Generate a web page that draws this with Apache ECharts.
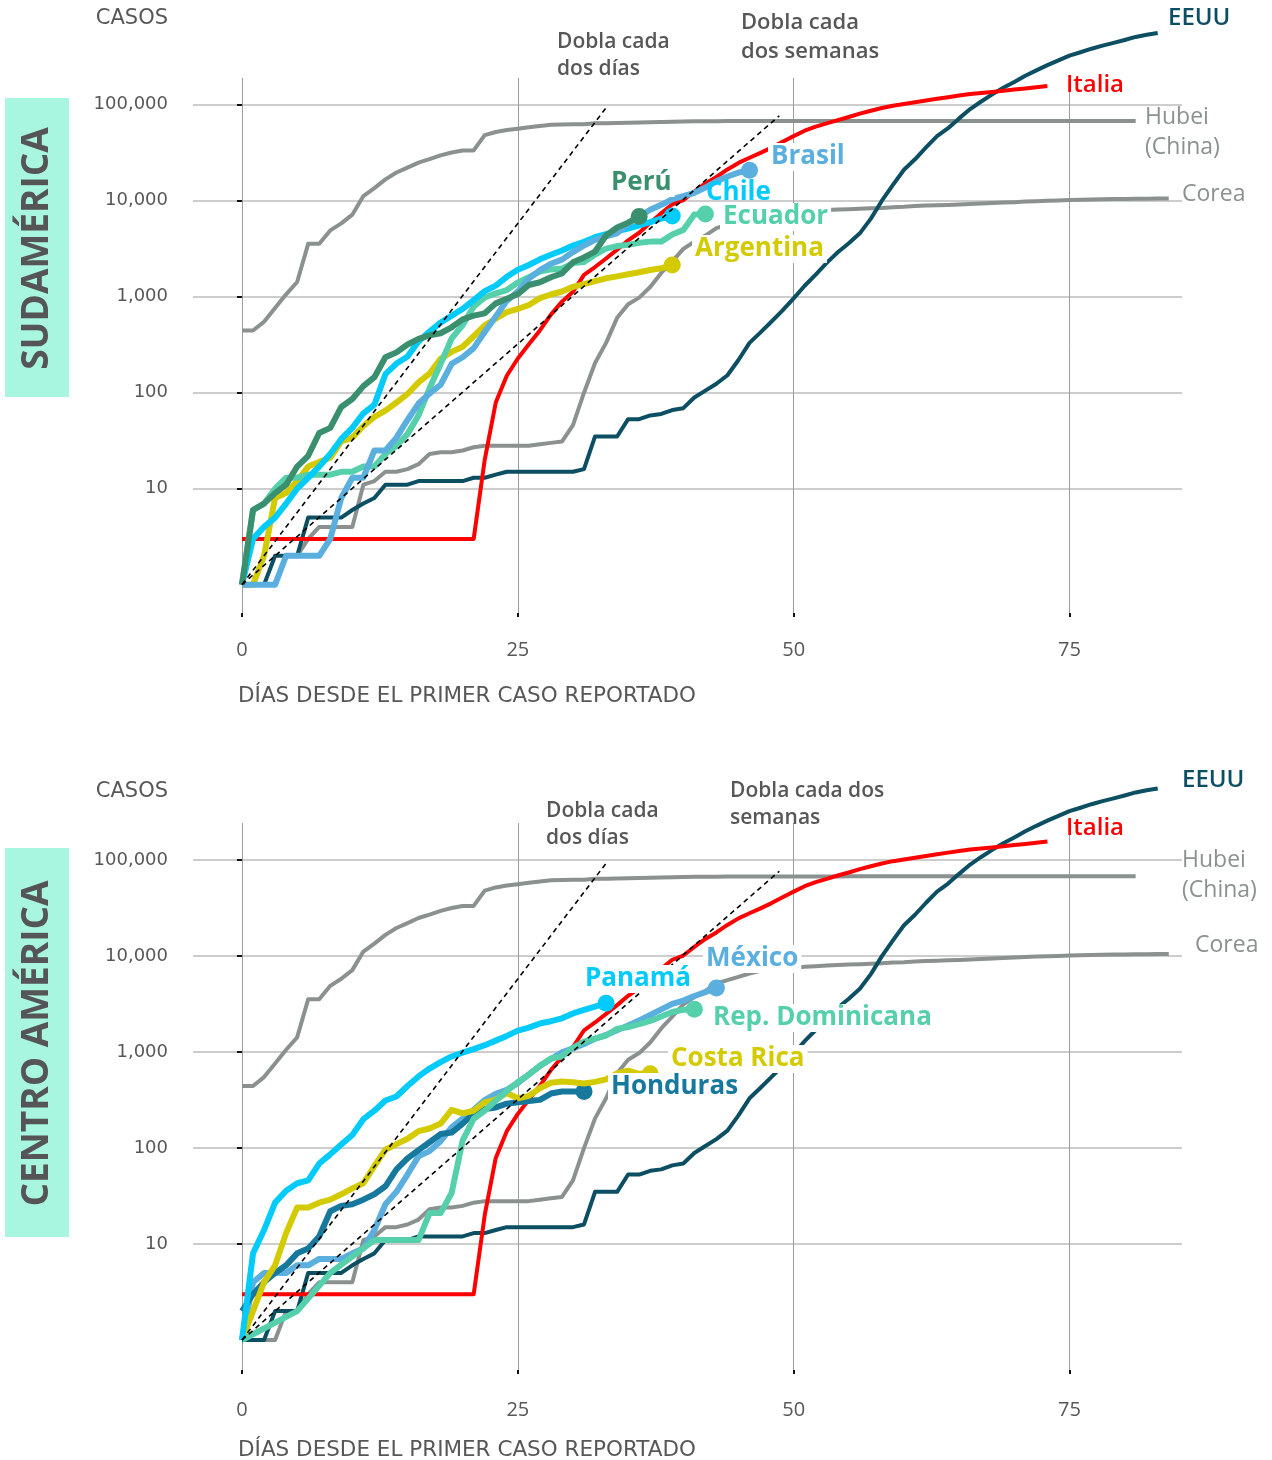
<!DOCTYPE html>
<html><head><meta charset="utf-8">
<script src="https://cdn.jsdelivr.net/npm/echarts@6/dist/echarts.min.js"></script>
<style>html,body{margin:0;padding:0;background:#fff}#c{width:1272px;height:1460px}</style>
</head><body><div id="c"></div>
<script>
// ---- tick labels ----
const xTicks = [0, 25, 50, 75];
const yTicks = [10, 100, 1000, 10000, 100000];

// ---- reference series (cases by day since first case; index = day) ----
const hubei = [444,444,549,761,1058,1423,3554,3554,4903,5806,7153,11177,13522,16678,19665,22112,24953,27100,29631,31728,33366,33366,48206,51986,54406,56249,58182,59989,61682,62031,62442,62662,64084,64084,64287,64786,65187,65596,65914,66337,66907,67103,67217,67332,67466,67592,67666,67707,67743,67760,67773,67781,67786,67790,67794,67798,67799,67800,67800,67800,67800,67800,67801,67801,67801,67801,67801,67801,67801,67801,67801,67802,67802,67802,67803,67803,67803,67803,67803,67803,67803,67803];
const corea = [1,1,1,1,2,2,3,4,4,4,4,11,12,15,15,16,18,23,24,24,25,27,28,28,28,28,28,29,30,31,46,100,204,330,602,833,977,1261,1766,2337,3150,3736,4335,5186,5621,6088,6593,7041,7314,7478,7513,7755,7869,7979,8086,8162,8236,8320,8413,8565,8652,8799,8897,8961,9037,9137,9241,9332,9478,9583,9661,9786,9887,9976,10062,10156,10237,10284,10331,10384,10423,10450,10480,10512,10537];
const italia = [3,3,3,3,3,3,3,3,3,3,3,3,3,3,3,3,3,3,3,3,3,3,20,79,150,227,320,445,650,888,1128,1689,2036,2502,3089,3858,4636,5883,7375,9172,10149,12462,15113,17660,21157,24747,27980,31506,35713,41035,47021,53578,59138,63927,69176,74386,80589,86498,92472,97689,101739,105792,110574,115242,119827,124632,128948,132547,135586,139422,143626,147577,152271,156363];
const eeuu = [1,1,1,2,2,2,5,5,5,5,6,7,8,11,11,11,12,12,12,12,12,13,13,14,15,15,15,15,15,15,15,16,35,35,35,53,53,58,60,66,69,89,105,124,152,219,330,425,552,720,960,1300,1700,2250,2900,3600,4570,6500,10000,14600,21000,27000,36000,47000,57000,72000,90000,108000,128000,150000,172000,200000,228000,258000,290000,325000,352000,383000,412000,440000,472000,508000,535000,557000];

// ---- Sudamérica ----
const brasil = [1,1,1,1,2,2,2,2,3,8,13,13,25,25,34,52,77,98,121,200,234,291,428,621,904,1128,1546,1891,2201,2433,2915,3417,3904,4256,4579,5717,6836,8044,9056,10360,11130,12056,13717,15927,17857,19638,20727];
const chile = [1,3,4,5,7,10,13,17,23,33,43,61,75,156,201,238,342,434,537,632,746,922,1142,1306,1610,1909,2139,2449,2738,3031,3404,3737,4161,4471,4815,5116,5546,5972,6501,6927];
const peru = [1,6,7,9,11,17,22,38,43,71,86,117,145,234,263,318,363,395,416,480,580,635,671,852,950,1065,1323,1414,1595,1746,2281,2561,2954,4342,5256,5897,6848];
const ecuador = [1,6,7,10,13,13,14,14,14,15,15,17,17,23,28,37,58,111,199,367,506,789,981,1082,1173,1403,1595,1823,1924,1962,2240,2302,2748,3163,3368,3465,3646,3747,3747,4450,4965,7161,7257];
const argentina = [1,1,2,8,9,12,17,19,21,31,34,45,56,65,79,97,128,158,225,266,301,387,502,589,690,745,820,966,1054,1133,1265,1353,1451,1554,1628,1715,1795,1894,1975,2142];

// ---- Centro América ----
const panama = [1,8,14,27,36,43,46,69,86,109,137,200,245,313,345,443,558,674,786,901,989,1075,1181,1317,1475,1673,1801,1988,2100,2249,2528,2752,2974,3234];
const mexico = [1,4,5,5,5,6,6,7,7,7,8,9,14,26,35,53,82,93,118,164,203,251,316,367,405,475,585,717,848,993,1094,1215,1378,1510,1688,1890,2143,2439,2785,3181,3441,3844,4219,4661];
const honduras = [2,3,4,5,6,8,9,12,22,25,26,29,33,40,60,78,95,115,140,145,180,230,255,265,290,300,310,318,370,389,389,389];
const costaRica = [1,2,4,6,13,24,24,27,29,33,38,43,65,96,110,125,150,160,180,250,230,245,300,320,375,330,350,420,480,495,485,470,490,520,600,640,594,594];
const repDomDays = [0,5,8,12,16,17,18,19,20,21,22,23,24,25,26,27,28,29,30,31,32,33,34,35,36,37,38,39,40,41];
const repDomCases = [1,2,5,11,11,21,21,34,120,202,245,312,392,488,581,719,859,901,1109,1284,1380,1488,1745,1828,1956,2111,2349,2620,2759,2800];

// ---- doubling guide lines (endpoints) ----
const dosDiasDays = [0, 33];
const dosDiasCases = [1, 92700];
const dosSemanasDays = [0, 48.7];
const dosSemanasCases = [1, 76700];

// ---- styles ----
const FONT = "'Open Sans', 'Noto Sans', sans-serif";
const FONT_AX = "'DejaVu Sans', 'Open Sans', sans-serif";
const C = {
  gray: '#8a918f', eeuu: '#0c4e62', italia: '#ff0000',
  blue: '#5aafdf', cyan: '#00cbfa', green: '#3a8f6f', mint: '#55d0ab', yellow: '#d4ca00', hond: '#17789e',
  text: '#575757', mintBox: '#a8f5e0'
};

function daily(arr) { return arr.map((v, i) => [i, v]); }
function pairs(xs, ys) { return xs.map((x, i) => [x, ys[i]]); }

function line(name, pts, color, width, gi, marker, z) {
  const data = pts.map((p, i) => (marker && i === pts.length - 1)
    ? { value: p, symbol: 'circle', symbolSize: 17 } : p);
  return {
    type: 'line', name, xAxisIndex: gi, yAxisIndex: gi, data, clip: false,
    symbol: 'none', showSymbol: true, silent: true, animation: false,
    lineStyle: { color, width, join: 'round' }, itemStyle: { color },
    z: z || 2
  };
}
function dashed(name, pts, gi) {
  return {
    type: 'line', name, xAxisIndex: gi, yAxisIndex: gi, data: pts, clip: false,
    symbol: 'none', silent: true, animation: false,
    lineStyle: { color: '#000', width: 1.6, type: [5, 4] }, z: 20
  };
}

function refSeries(gi) {
  return [
    line('Hubei (China)', daily(hubei), C.gray, 4, gi),
    line('Corea', daily(corea), C.gray, 4, gi),
    line('EEUU', daily(eeuu), C.eeuu, 4, gi),
    line('Italia', daily(italia), C.italia, 4, gi)
  ];
}

const series = [
  ...refSeries(0),
  line('Argentina', daily(argentina), C.yellow, 6, 0, true, 5),
  line('Ecuador', daily(ecuador), C.mint, 6, 0, true, 5),
  line('Chile', daily(chile), C.cyan, 6, 0, true, 6),
  line('Brasil', daily(brasil), C.blue, 6, 0, true, 7),
  line('Perú', daily(peru), C.green, 6, 0, true, 8),
  dashed('Dobla cada dos días', pairs(dosDiasDays, dosDiasCases), 0),
  dashed('Dobla cada dos semanas', pairs(dosSemanasDays, dosSemanasCases), 0),

  ...refSeries(1),
  line('México', daily(mexico), C.blue, 6, 1, true, 5),
  line('Honduras', daily(honduras), C.hond, 6, 1, true, 5),
  line('Costa Rica', daily(costaRica), C.yellow, 6, 1, true, 6),
  line('Rep. Dominicana', pairs(repDomDays, repDomCases), C.mint, 6, 1, true, 7),
  line('Panamá', daily(panama), C.cyan, 6, 1, true, 8),
  dashed('Dobla cada dos días', pairs(dosDiasDays, dosDiasCases), 1),
  dashed('Dobla cada dos semanas', pairs(dosSemanasDays, dosSemanasCases), 1)
];

function xAxis(gi, margin) {
  return {
    type: 'value', gridIndex: gi, min: -4.44, max: 85.2,
    axisLine: { show: false },
    axisTick: { show: true, customValues: xTicks, length: 4, lineStyle: { color: '#111', width: 2 } },
    axisLabel: { customValues: xTicks, margin, fontSize: 20, color: C.text, fontFamily: FONT },
    splitLine: { show: true, lineStyle: { color: '#9c9c9c', width: 1 } }
  };
}
function yAxis(gi, min, max) {
  return {
    type: 'log', logBase: 10, gridIndex: gi, min, max,
    axisLine: { show: false },
    axisTick: { show: true, customValues: yTicks, length: 5, lineStyle: { color: '#111', width: 2 } },
    axisLabel: { customValues: yTicks, margin: 25, fontSize: 18, color: C.text, fontFamily: FONT_AX,
      formatter: v => Math.round(v).toLocaleString('en-US') },
    splitLine: { show: true, lineStyle: { color: '#bcbcbc', width: 1.5 } }
  };
}

function T(x, y, text, fill, size, weight, bg, family) {
  const style = { text, fill, fontSize: size, fontWeight: weight, fontFamily: family || FONT, align: 'left', verticalAlign: 'middle' };
  if (bg) { style.backgroundColor = '#fff'; style.padding = [1, 3]; x -= 3; }
  return { type: 'text', x, y, z: 100, silent: true, style };
}
function sideBox(x, y, w, h, text) {
  return [
    { type: 'rect', z: 100, silent: true, shape: { x, y, width: w, height: h }, style: { fill: C.mintBox } },
    { type: 'text', z: 101, silent: true, x: x + w / 2 + 0.5, y: y + h / 2 + 1, rotation: Math.PI / 2,
      style: { text, fill: '#555', fontSize: 37, fontWeight: 700, fontFamily: FONT, align: 'center', verticalAlign: 'middle' } }
  ];
}
function casos(y) {
  return { type: 'text', z: 100, x: 168, y, silent: true,
    style: { text: 'CASOS', fill: C.text, fontSize: 21, fontFamily: FONT_AX, align: 'right', verticalAlign: 'middle' } };
}

const graphics = [
  // top panel
  ...sideBox(5, 98, 64, 299, 'SUDAMÉRICA'),
  casos(19),
  T(238, 696, 'DÍAS DESDE EL PRIMER CASO REPORTADO', C.text, 21.5, 400, false, FONT_AX),
  T(557, 42, 'Dobla cada', C.text, 21, 600),
  T(557, 69, 'dos días', C.text, 21, 600),
  T(741, 23, 'Dobla cada', C.text, 22, 600),
  T(741, 52, 'dos semanas', C.text, 22, 600),
  T(1168, 18, 'EEUU', C.eeuu, 24, 600),
  T(1066, 85, 'Italia', C.italia, 24, 600),
  T(1145, 117, 'Hubei', C.gray, 23, 400),
  T(1145, 147, '(China)', C.gray, 23, 400),
  T(1182, 194, 'Corea', C.gray, 23, 400),
  T(771, 157, 'Brasil', C.blue, 26, 700, true),
  T(611, 183, 'Perú', C.green, 26, 700, true),
  T(706, 193, 'Chile', C.cyan, 26, 700),
  T(723, 217, 'Ecuador', C.mint, 26, 700, true),
  T(695, 249, 'Argentina', C.yellow, 26, 700, true),

  // bottom panel
  ...sideBox(5, 848, 64, 389, 'CENTRO AMÉRICA'),
  casos(792),
  T(238, 1450, 'DÍAS DESDE EL PRIMER CASO REPORTADO', C.text, 21.5, 400, false, FONT_AX),
  T(546, 811, 'Dobla cada', C.text, 21, 600),
  T(546, 838, 'dos días', C.text, 21, 600),
  T(730, 791, 'Dobla cada dos', C.text, 21, 600),
  T(730, 818, 'semanas', C.text, 21, 600),
  T(1182, 780, 'EEUU', C.eeuu, 24, 600),
  T(1066, 828, 'Italia', C.italia, 24, 600),
  T(1182, 860, 'Hubei', C.gray, 23, 400),
  T(1182, 890, '(China)', C.gray, 23, 400),
  T(1195, 945, 'Corea', C.gray, 23, 400),
  T(585, 979, 'Panamá', C.cyan, 26, 700, true),
  T(706, 959, 'México', C.blue, 26, 700, true),
  T(713, 1018, 'Rep. Dominicana', C.mint, 26, 700, true),
  T(671, 1059, 'Costa Rica', C.yellow, 26, 700, true),
  T(611, 1087, 'Honduras', C.hond, 26, 700, true)
];

const chart = echarts.init(document.getElementById('c'), null, { renderer: 'canvas' });
chart.setOption({
  animation: false,
  backgroundColor: '#fff',
  grid: [
    { left: 193, right: 90, top: 78, height: 535, containLabel: false, outerBoundsMode: 'none' },
    { left: 193, right: 90, top: 823, height: 547, containLabel: false, outerBoundsMode: 'none' }
  ],
  xAxis: [xAxis(0, 27), xAxis(1, 30)],
  yAxis: [yAxis(0, 0.507, 189700), yAxis(1, 0.487, 244000)],
  series,
  graphic: { elements: graphics }
});
</script></body></html>
